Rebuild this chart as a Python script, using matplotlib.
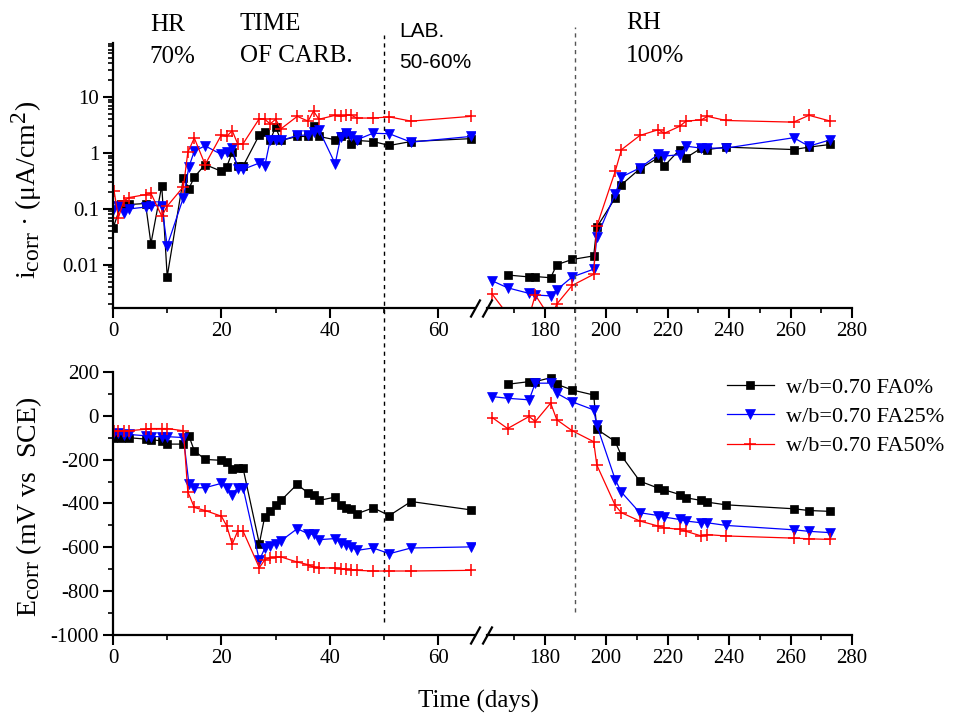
import matplotlib
matplotlib.use("Agg")
import matplotlib.pyplot as plt
import matplotlib.transforms as mtransforms
import matplotlib._mathtext as _mt
from matplotlib.ticker import MultipleLocator, LogLocator, NullFormatter, FuncFormatter

plt.rcParams["font.family"] = ["Liberation Serif", "DejaVu Serif"]
plt.rcParams["mathtext.fontset"] = "custom"
plt.rcParams["mathtext.rm"] = "Liberation Serif"
plt.rcParams["mathtext.it"] = "Liberation Serif:italic"
plt.rcParams["axes.unicode_minus"] = False
# the original uses nearly full-size subscripts in the axis titles
_mt.SHRINK_FACTOR = 0.85

# ---- early period (days 0-66) ----
day_fa0_a = [0, 1.5, 3, 6, 7, 9, 10, 13, 14, 15, 17, 20, 21, 22, 23, 24, 27, 28, 29, 30, 31,
             34, 36, 37, 38, 41, 42, 43, 44, 45, 48, 51, 55, 66]
day_fa25_a = [0, 1, 2, 3, 6, 7, 9, 10, 13, 14, 15, 17, 20, 21, 22, 23, 24, 27, 28, 29, 30, 31,
              34, 36, 37, 38, 41, 42, 43, 44, 45, 48, 51, 55, 66]
day_fa50_a = [0.2, 1, 2, 3, 6, 7, 9, 10, 13, 13.8, 15, 17, 20, 21, 22, 23, 24, 27, 28, 29, 30, 31,
              34, 36, 37, 38, 41, 42, 43, 44, 45, 48, 51, 55, 66]

icorr_fa0_a = [0.045, 0.12, 0.12, 0.125, 0.024, 0.26, 0.0062, 0.36, 0.23, 0.37, 0.62, 0.47, 0.57,
               1.03, 0.58, 0.58, 2.1, 2.4, 1.67, 2.9, 1.67, 1.97, 1.97, 2.97, 1.97, 1.72, 1.97,
               2.2, 1.46, 1.67, 1.6, 1.36, 1.6, 1.8]
icorr_fa25_a = [0.094, 0.115, 0.085, 0.1, 0.108, 0.115, 0.115, 0.022, 0.16, 0.56, 1.08, 1.34, 0.94,
                1.03, 1.24, 0.52, 0.51, 0.66, 0.58, 1.7, 1.67, 1.67, 2.05, 2.1, 2.35, 2.6, 0.64,
                1.9, 2.25, 1.97, 1.72, 2.25, 2.2, 1.56, 1.97]
icorr_fa50_a = [0.21, 0.07, 0.14, 0.16, 0.18, 0.19, 0.074, 0.112, 0.25, 1.02, 1.85, 0.62, 2.1, 1.97,
                2.5, 1.46, 1.46, 4.1, 4.0, 3.3, 4.0, 2.7, 4.5, 3.7, 5.6, 4.0, 4.7, 4.5, 4.7, 4.7,
                4.2, 4.2, 4.4, 3.7, 4.5]

ecorr_fa0_a = [-99, -100, -100, -106, -109, -114, -129, -129, -91, -159, -199, -203, -209, -242,
               -239, -239, -583, -460, -436, -409, -386, -312, -353, -361, -386, -371, -406, -421,
               -424, -447, -420, -455, -391, -429]
ecorr_fa25_a = [-85, -80, -88, -85, -91, -95, -95, -95, -99, -309, -328, -328, -308, -331, -359,
                -328, -328, -659, -605, -592, -585, -570, -515, -538, -541, -565, -560, -580,
                -591, -598, -614, -603, -629, -603, -598]
ecorr_fa50_a = [-71, -68, -68, -68, -61, -58, -58, -58, -68, -346, -418, -432, -458, -503, -586,
                -526, -526, -693, -657, -647, -646, -644, -667, -679, -690, -694, -694, -697,
                -700, -702, -705, -708, -708, -708, -705]

# ---- late period (days 163-273) ----
day_fa0_b = [168, 175, 177, 182, 184, 189, 196, 197, 203, 205, 211, 217, 219, 224, 226, 231,
             233, 239, 261, 266, 273]
day_b = [163, 168, 175, 177, 182, 184, 189, 196, 197, 203, 205, 211, 217, 219, 224, 226, 231,
         233, 239, 261, 266, 273]

icorr_fa0_b = [0.0066, 0.0061, 0.0062, 0.0059, 0.0101, 0.0125, 0.0145, 0.047, 0.157, 0.27, 0.52,
               0.82, 0.59, 1.15, 0.82, 1.22, 1.15, 1.27, 1.15, 1.27, 1.42]
icorr_fa25_b = [0.0052, 0.0039, 0.0031, 0.0029, 0.0028, 0.0036, 0.0061, 0.0084, 0.031, 0.187,
                0.37, 0.54, 0.94, 0.88, 0.93, 1.32, 1.22, 1.22, 1.22, 1.87, 1.32, 1.72]
icorr_fa50_b = [0.003, 0.0013, 0.0012, 0.0029, 0.0011, 0.002, 0.0043, 0.0068, 0.049, 0.47, 1.14,
                2.05, 2.6, 2.25, 3.0, 3.7, 3.9, 4.5, 3.8, 3.55, 4.7, 3.7]

ecorr_fa0_b = [144, 156, 156, 174, 144, 118, 95, -61, -117, -182, -298, -330, -338, -359, -374,
               -386, -394, -406, -424, -432, -436]
ecorr_fa25_b = [88, 80, 73, 149, 149, 103, 64, 27, -42, -291, -348, -442, -455, -462, -473, -480,
                -488, -488, -500, -520, -527, -533]
ecorr_fa50_b = [-8, -58, -3, -26, 58, -18, -68, -118, -224, -409, -442, -480, -503, -511, -518,
                -527, -548, -542, -548, -558, -561, -564]

labels = ["w/b=0.70 FA0%", "w/b=0.70 FA25%", "w/b=0.70 FA50%"]
colors = ["black", "#0000ff", "#ff0000"]
markers = ["s", "v", "+"]
msizes = [5.5, 7.5, 8]

W, H = 956, 718
fig = plt.figure(figsize=(W / 100, H / 100), dpi=100)


def box(x0, x1, ytop, ybot):
    return [x0 / W, 1 - ybot / H, (x1 - x0) / W, (ybot - ytop) / H]


ax_tl = fig.add_axes(box(113, 475, 43, 308))
ax_tr = fig.add_axes(box(487, 852, 43, 308), sharey=ax_tl)
ax_bl = fig.add_axes(box(113, 475, 372, 635))
ax_br = fig.add_axes(box(487, 852, 372, 635), sharey=ax_bl)

series_a_top = [(day_fa0_a, icorr_fa0_a), (day_fa25_a, icorr_fa25_a), (day_fa50_a, icorr_fa50_a)]
series_b_top = [(day_fa0_b, icorr_fa0_b), (day_b, icorr_fa25_b), (day_b, icorr_fa50_b)]
series_a_bot = [(day_fa0_a, ecorr_fa0_a), (day_fa25_a, ecorr_fa25_a), (day_fa50_a, ecorr_fa50_a)]
series_b_bot = [(day_fa0_b, ecorr_fa0_b), (day_b, ecorr_fa25_b), (day_b, ecorr_fa50_b)]

for ax, series in [(ax_tl, series_a_top), (ax_tr, series_b_top),
                   (ax_bl, series_a_bot), (ax_br, series_b_bot)]:
    for (x, y), c, m, ms, lab in zip(series, colors, markers, msizes, labels):
        ax.plot(x, y, color=c, marker=m, ms=ms, mew=1.1 if m == "+" else 0.5,
                lw=0.9, label=lab)

for ax, left in [(ax_tl, True), (ax_tr, False), (ax_bl, True), (ax_br, False)]:
    ax.patch.set_visible(False)
    ax.spines["top"].set_visible(False)
    ax.spines["right"].set_visible(False)
    ax.spines["bottom"].set_linewidth(1.6)
    ax.spines["left"].set_linewidth(1.6)
    ax.tick_params(which="major", direction="out", length=7, width=1.5, labelsize=15, pad=3)
    ax.tick_params(which="minor", direction="out", length=3.5, width=1.2)
    ax.xaxis.set_major_locator(MultipleLocator(20))
    ax.xaxis.set_minor_locator(MultipleLocator(10))
    if left:
        ax.set_xlim(0, 66.8)
    else:
        ax.set_xlim(161.3, 280)
        ax.spines["left"].set_visible(False)
        ax.tick_params(axis="y", which="both", left=False, labelleft=False)

ax_tl.set_yscale("log")
ax_tl.set_ylim(0.0017, 92)
ax_tl.yaxis.set_major_locator(LogLocator(base=10))
ax_tl.yaxis.set_minor_locator(LogLocator(base=10, subs=range(2, 10)))
ax_tl.yaxis.set_minor_formatter(NullFormatter())
ax_tl.yaxis.set_major_formatter(FuncFormatter(lambda v, _: f"{v:g}"))

ax_bl.set_ylim(-1000, 200)
ax_bl.yaxis.set_major_locator(MultipleLocator(200))
ax_bl.yaxis.set_minor_locator(MultipleLocator(100))

ax_tl.set_ylabel(r"i$_{\mathrm{corr}}$ · (μA/cm$^{2}$)", fontsize=20)
ax_tl.yaxis.set_label_coords(-0.19, 0.445)
ax_bl.set_ylabel(r"E$_{\mathrm{corr}}$ (mV vs  SCE)", fontsize=20)
ax_bl.yaxis.set_label_coords(-0.19, 0.487)
fig.text(0.5, 0.0139, "Time (days)", fontsize=18, ha="center", va="baseline")

# axis breaks
brk = dict(marker=[(-1, -1.8), (1, 1.8)], markersize=13, mew=1.6, color="black",
           linestyle="none", clip_on=False)
for ax in (ax_tl, ax_bl):
    ax.plot([1], [0], transform=ax.transAxes, **brk)
for ax in (ax_tr, ax_br):
    ax.plot([0], [0], transform=ax.transAxes, **brk)

# dashed separators running through both panels
ax_tl.axvline(50, ymin=-1.185, ymax=1.03, clip_on=False, color="black", lw=1,
              ls=(0, (3, 3)))
ax_tr.axvline(190, ymin=-1.147, ymax=1.06, clip_on=False, color="#555555", lw=1,
              ls=(0, (3, 3)))

# condition annotations
tl = mtransforms.blended_transform_factory(ax_tl.transData, ax_tl.transAxes)
tr = mtransforms.blended_transform_factory(ax_tr.transData, ax_tr.transAxes)
ax_tl.text(6.8, 1.046, "HR", transform=tl, fontsize=18, va="baseline")
ax_tl.text(6.8, 0.925, "70%", transform=tl, fontsize=18, va="baseline")
ax_tl.text(23.4, 1.049, "TIME", transform=tl, fontsize=18, va="baseline")
ax_tl.text(23.4, 0.928, "OF CARB.", transform=tl, fontsize=18, va="baseline")
ax_tl.text(52.8, 1.024, "LAB.", transform=tl, fontsize=15, va="baseline",
           family=["Liberation Sans", "DejaVu Sans"])
ax_tl.text(52.8, 0.906, "50-60%", transform=tl, fontsize=15, va="baseline",
           family=["Liberation Sans", "DejaVu Sans"])
ax_tr.text(206.5, 1.052, "RH", transform=tr, fontsize=18, va="baseline")
ax_tr.text(206.5, 0.928, "100%", transform=tr, fontsize=18, va="baseline")

ax_br.legend(loc="upper left", bbox_to_anchor=(727 / W, 1 - 377 / H),
             bbox_transform=fig.transFigure, frameon=False, fontsize=16,
             handlelength=2.1, handletextpad=0.55, labelspacing=0.4, borderpad=0,
             borderaxespad=0)

fig.savefig("out.png", dpi=100)
